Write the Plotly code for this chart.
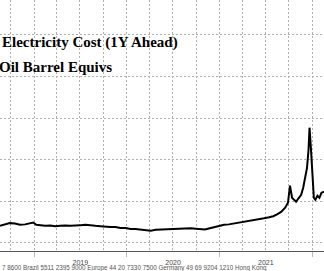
import plotly.graph_objects as go

# Data
dates = [
    "2018-08-20", "2018-09-08", "2018-09-28", "2018-10-18", "2018-11-07", "2018-11-27",
    "2018-12-17", "2018-12-29", "2019-01-10", "2019-01-26", "2019-02-14", "2019-03-06",
    "2019-03-26", "2019-04-14", "2019-05-04", "2019-05-24", "2019-06-13", "2019-07-03",
    "2019-07-23", "2019-08-11", "2019-08-31", "2019-09-20", "2019-10-10", "2019-10-29",
    "2019-11-18", "2019-12-08", "2019-12-28", "2020-01-17", "2020-02-05", "2020-02-25",
    "2020-03-16", "2020-04-05", "2020-04-25", "2020-05-14", "2020-06-03", "2020-06-23",
    "2020-07-13", "2020-08-01", "2020-08-21", "2020-09-10", "2020-09-30", "2020-10-20",
    "2020-11-05", "2020-11-20", "2020-12-10", "2020-12-30", "2021-01-19", "2021-02-07",
    "2021-02-27", "2021-03-19", "2021-04-08", "2021-04-28", "2021-05-17", "2021-06-06",
    "2021-06-26", "2021-07-16", "2021-08-01", "2021-08-16", "2021-09-01", "2021-09-17",
    "2021-09-28", "2021-10-06", "2021-10-10", "2021-10-14", "2021-10-22", "2021-10-30",
    "2021-11-07", "2021-11-19", "2021-11-27", "2021-12-04", "2021-12-12", "2021-12-18",
    "2021-12-22", "2021-12-27", "2021-12-31", "2022-01-04", "2022-01-08", "2022-01-14",
    "2022-01-22", "2022-01-30", "2022-02-07", "2022-02-17",
]
values = [
    82, 89, 95, 93, 87, 89,
    96, 98, 87, 84, 82, 84,
    80, 82, 84, 82, 82, 85,
    87, 83, 82, 80, 77, 77,
    76, 72, 72, 67, 67, 64,
    59, 58, 63, 64, 65, 67,
    70, 68, 69, 70, 68, 66,
    64, 69, 75, 82, 87, 89,
    93, 95, 99, 104, 108, 113,
    118, 123, 128, 137, 149, 169,
    193, 275, 241, 217, 207, 198,
    212, 231, 265, 304, 361, 448,
    554, 463, 376, 255, 217, 207,
    227, 217, 241, 246,
]

title_line1 = "Electricity Cost (1Y Ahead)"
title_line2 = "Oil Barrel Equivs"
footer = ("7 8600 Brazil 5511 2395 9000 Europe 44 20 7330 7500 "
          "Germany 49 69 9204 1210 Hong Kong")

W, H = 324, 271
PLOT_BOTTOM = 251

def px_x(p):
    return p / W

def px_y(p):
    return (PLOT_BOTTOM - p) / PLOT_BOTTOM

GRID = "#b0b0b0"
DASH = "2px,2px"

fig = go.Figure()
fig.add_trace(go.Scatter(x=dates, y=values, mode="lines",
                         line=dict(color="black", width=2), showlegend=False))

xr = ["2018-08-20", "2022-02-17"]
fig.update_layout(
    template="none",
    width=W, height=H,
    margin=dict(l=0, r=0, t=0, b=H - PLOT_BOTTOM, pad=0, autoexpand=False),
    paper_bgcolor="white", plot_bgcolor="white",
    xaxis=dict(range=xr, type="date",
               dtick="M12", tick0="2019-01-01", tickformat="%Y",
               ticklabelmode="period", ticks="outside", ticklen=5,
               tickcolor="#bbb", tickwidth=1,
               tickfont=dict(family="Liberation Sans", size=7, color="#444"),
               showgrid=True, gridcolor=GRID, griddash=DASH, gridwidth=1,
               showline=True, linecolor="#555", linewidth=1,
               zeroline=False, automargin=False,
               minor=dict(dtick="M3", tick0="2018-10-01", ticks="",
                          showgrid=True, gridcolor=GRID, griddash=DASH,
                          gridwidth=1)),
    yaxis=dict(range=[-39, 1168], dtick=200, tick0=0, showgrid=True,
               gridcolor=GRID, griddash=DASH, gridwidth=1,
               showticklabels=False, ticks="", zeroline=False, showline=False,
               automargin=False),
)

fig.add_annotation(text="<b>" + title_line1 + "</b>", xref="paper", yref="paper",
                   x=px_x(0), y=px_y(43), xanchor="left", yanchor="middle",
                   showarrow=False,
                   font=dict(family="Liberation Serif", size=15, color="black"))
fig.add_annotation(text="<b>" + title_line2 + "</b>", xref="paper", yref="paper",
                   x=px_x(-3), y=px_y(67), xanchor="left", yanchor="middle",
                   showarrow=False,
                   font=dict(family="Liberation Serif", size=15, color="black"))
fig.add_annotation(text=footer, xref="paper", yref="paper",
                   x=px_x(0), y=px_y(268.3), xanchor="left", yanchor="middle",
                   showarrow=False,
                   font=dict(family="Liberation Sans", size=6.3, color="#555"))

fig.write_html("out.html")
